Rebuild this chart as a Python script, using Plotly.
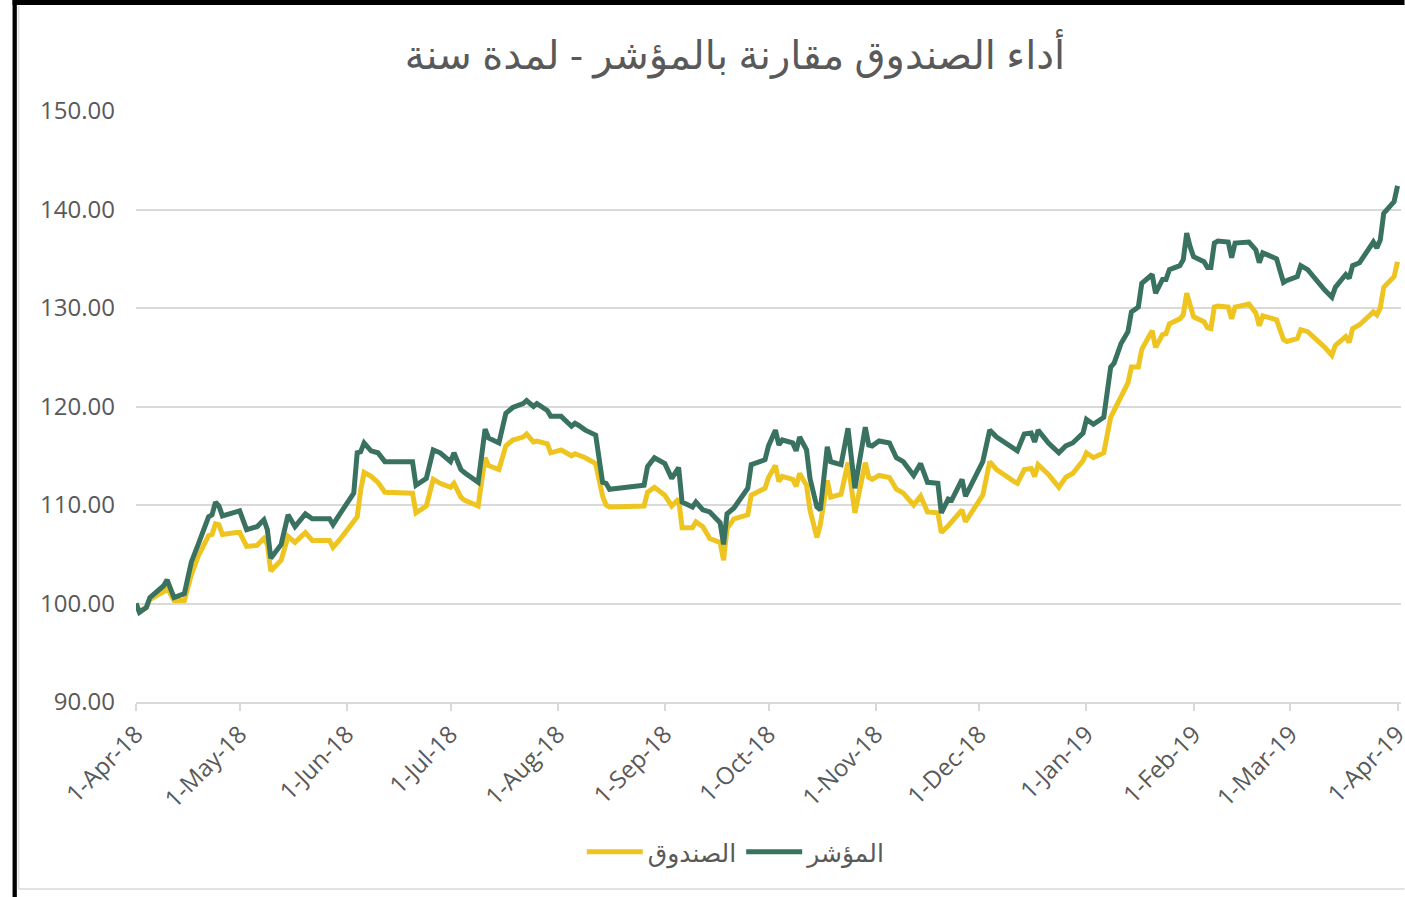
import plotly.graph_objects as go

# ---------------- data ----------------
dates = [
    "2018-04-01", "2018-04-02", "2018-04-04", "2018-04-05", "2018-04-08", "2018-04-09", "2018-04-10",
    "2018-04-12", "2018-04-15", "2018-04-17", "2018-04-19", "2018-04-22", "2018-04-23", "2018-04-24",
    "2018-04-25", "2018-04-26", "2018-04-30", "2018-05-01", "2018-05-03", "2018-05-06", "2018-05-08",
    "2018-05-09", "2018-05-10", "2018-05-13", "2018-05-15", "2018-05-17", "2018-05-20", "2018-05-22",
    "2018-05-27", "2018-05-28", "2018-05-30", "2018-06-03", "2018-06-04", "2018-06-05", "2018-06-06",
    "2018-06-08", "2018-06-10", "2018-06-12", "2018-06-20", "2018-06-21", "2018-06-24", "2018-06-26",
    "2018-06-28", "2018-07-01", "2018-07-02", "2018-07-04", "2018-07-05", "2018-07-09", "2018-07-11",
    "2018-07-12", "2018-07-15", "2018-07-17", "2018-07-19", "2018-07-22", "2018-07-23", "2018-07-25",
    "2018-07-26", "2018-07-29", "2018-07-30", "2018-08-02", "2018-08-05", "2018-08-06", "2018-08-07",
    "2018-08-09", "2018-08-12", "2018-08-14", "2018-08-15", "2018-08-16", "2018-08-26", "2018-08-27",
    "2018-08-29", "2018-09-01", "2018-09-03", "2018-09-05", "2018-09-06", "2018-09-09", "2018-09-10",
    "2018-09-12", "2018-09-14", "2018-09-17", "2018-09-18", "2018-09-19", "2018-09-21", "2018-09-23",
    "2018-09-25", "2018-09-26", "2018-09-30", "2018-10-01", "2018-10-03", "2018-10-04", "2018-10-05",
    "2018-10-08", "2018-10-09", "2018-10-10", "2018-10-12", "2018-10-13", "2018-10-15", "2018-10-16",
    "2018-10-18", "2018-10-19", "2018-10-22", "2018-10-24", "2018-10-26", "2018-10-29", "2018-10-30",
    "2018-10-31", "2018-11-02", "2018-11-05", "2018-11-07", "2018-11-09", "2018-11-12", "2018-11-14",
    "2018-11-16", "2018-11-19", "2018-11-20", "2018-11-22", "2018-11-23", "2018-11-26", "2018-11-27",
    "2018-12-02", "2018-12-04", "2018-12-06", "2018-12-11", "2018-12-12", "2018-12-14", "2018-12-16",
    "2018-12-17", "2018-12-18", "2018-12-21", "2018-12-24", "2018-12-26", "2018-12-28", "2018-12-31",
    "2019-01-01", "2019-01-03", "2019-01-06", "2019-01-08", "2019-01-09", "2019-01-10", "2019-01-11",
    "2019-01-13", "2019-01-14", "2019-01-16", "2019-01-17", "2019-01-20", "2019-01-21", "2019-01-23",
    "2019-01-24", "2019-01-25", "2019-01-28", "2019-01-29", "2019-01-30", "2019-01-31", "2019-02-01",
    "2019-02-04", "2019-02-05", "2019-02-06", "2019-02-07", "2019-02-08", "2019-02-11", "2019-02-12",
    "2019-02-13", "2019-02-17", "2019-02-19", "2019-02-20", "2019-02-21", "2019-02-25", "2019-02-27",
    "2019-02-28", "2019-03-03", "2019-03-04", "2019-03-06", "2019-03-11", "2019-03-13", "2019-03-14",
    "2019-03-17", "2019-03-18", "2019-03-19", "2019-03-21", "2019-03-25", "2019-03-26", "2019-03-27",
    "2019-03-28", "2019-03-31", "2019-04-01",
]

index_vals = [
    100.0, 99.1, 99.6, 100.6, 101.5, 101.8, 102.4,
    100.6, 101.0, 104.2, 106.0, 108.8, 109.0, 110.3,
    109.9, 108.9, 109.3, 109.4, 107.5, 107.8, 108.5,
    107.5, 104.6, 106.0, 109.0, 107.8, 109.1, 108.6,
    108.6, 108.0, 109.1, 111.2, 115.3, 115.4, 116.3,
    115.5, 115.3, 114.4, 114.4, 112.0, 112.7, 115.6,
    115.3, 114.4, 115.3, 113.6, 113.3, 112.3, 117.7,
    116.8, 116.3, 119.3, 119.9, 120.3, 120.6, 120.0,
    120.3, 119.6, 119.0, 119.0, 118.0, 118.3, 118.1,
    117.6, 117.1, 112.3, 112.2, 111.6, 112.0, 113.9,
    114.8, 114.2, 112.7, 113.8, 110.3, 109.8, 110.3,
    109.5, 109.3, 108.2, 106.0, 109.1, 109.7, 110.8,
    111.7, 114.1, 114.6, 116.0, 117.6, 116.1, 116.6,
    116.3, 115.5, 116.9, 115.6, 112.7, 109.8, 109.5,
    115.9, 114.4, 114.1, 117.8, 111.7, 117.9, 116.1,
    116.0, 116.5, 116.3, 114.8, 114.4, 113.0, 114.2,
    112.3, 112.2, 109.2, 110.6, 110.5, 112.6, 110.9,
    114.4, 117.6, 116.9, 115.8, 115.5, 117.2, 117.3,
    116.4, 117.6, 116.3, 115.3, 116.0, 116.3, 117.3,
    118.7, 118.2, 118.9, 124.0, 124.4, 125.4, 126.4,
    127.6, 129.6, 130.1, 132.5, 133.4, 131.5, 132.9,
    132.9, 133.9, 134.3, 134.9, 137.6, 136.2, 135.2,
    134.7, 134.1, 134.1, 136.6, 136.8, 136.7, 135.1,
    136.6, 136.7, 135.9, 134.6, 135.6, 135.0, 132.6,
    132.8, 133.2, 134.3, 133.9, 131.8, 131.1, 132.1,
    133.4, 133.0, 134.3, 134.6, 136.7, 136.1, 136.9,
    139.6, 140.8, 142.4,
]

fund_vals = [
    100.0, 99.2, 99.6, 100.4, 101.0, 101.2, 101.6,
    100.3, 100.3, 102.9, 104.8, 106.9, 107.0, 108.1,
    108.0, 107.0, 107.2, 107.2, 105.8, 105.9, 106.6,
    106.0, 103.3, 104.4, 106.8, 106.2, 107.2, 106.4,
    106.4, 105.7, 106.5, 108.3, 108.8, 111.5, 113.3,
    112.9, 112.3, 111.3, 111.2, 109.2, 109.9, 112.6,
    112.2, 111.8, 112.2, 110.8, 110.5, 109.9, 114.8,
    114.0, 113.6, 116.0, 116.6, 116.9, 117.2, 116.4,
    116.5, 116.2, 115.3, 115.6, 115.0, 115.2, 115.1,
    114.8, 114.2, 110.9, 110.0, 109.8, 109.9, 111.3,
    111.8, 111.0, 109.9, 110.6, 107.7, 107.7, 108.3,
    107.8, 106.6, 106.2, 104.4, 107.6, 108.6, 108.8,
    109.0, 111.0, 111.7, 112.8, 114.0, 112.4, 112.9,
    112.6, 111.9, 113.2, 112.0, 109.5, 106.7, 108.0,
    112.5, 110.8, 111.1, 114.3, 109.2, 114.3, 112.8,
    112.6, 113.0, 112.8, 111.6, 111.2, 110.0, 110.9,
    109.3, 109.2, 107.2, 107.9, 108.3, 109.5, 108.3,
    111.0, 114.4, 113.6, 112.4, 112.2, 113.6, 113.7,
    112.9, 114.1, 113.1, 111.8, 112.8, 113.2, 114.5,
    115.3, 114.8, 115.3, 118.9, 119.6, 120.3, 121.0,
    122.4, 124.0, 124.0, 125.8, 127.7, 126.0, 127.3,
    127.4, 128.4, 128.9, 129.3, 131.5, 130.1, 129.1,
    128.6, 128.0, 127.9, 130.1, 130.2, 130.1, 128.9,
    130.1, 130.4, 129.5, 128.2, 129.2, 128.8, 126.8,
    126.6, 126.9, 127.8, 127.6, 126.0, 125.2, 126.2,
    127.1, 126.5, 127.9, 128.3, 129.6, 129.3, 130.0,
    132.1, 133.2, 134.7,
]

series_names = ["الصندوق", "المؤشر"]
title_text = "أداء الصندوق مقارنة بالمؤشر - لمدة سنة"
y_ticks = [90, 100, 110, 120, 130, 140, 150]

# ---------------- style ----------------
W, H = 1405, 897
PX_PER_DAY = (1398 - 136) / 365.0
PAD_DAYS = 1.0
L, T, B = 136, 111, H - 702
R = W - (1398 + PAD_DAYS * PX_PER_DAY)
FONT = "Open Sans, DejaVu Sans, sans-serif"
TXT = "#595959"
GRID = "#D9D9D9"
YELLOW = "#EEC520"
GREEN = "#3A7261"


def px_x(px):
    return (px - L) / (W - L - R)


def px_y(py):
    return (H - B - py) / (H - T - B)


fig = go.Figure()
fig.add_trace(go.Scatter(x=dates, y=fund_vals, name=series_names[0], mode="lines",
                         line=dict(color=YELLOW, width=5)))
fig.add_trace(go.Scatter(x=dates, y=index_vals, name=series_names[1], mode="lines",
                         line=dict(color=GREEN, width=5)))

shapes = [
    dict(type="rect", xref="paper", yref="paper", x0=px_x(12.5), x1=px_x(16.8), y0=px_y(H), y1=px_y(0),
         fillcolor="black", line=dict(width=0), layer="above"),
    dict(type="rect", xref="paper", yref="paper", x0=px_x(12.5), x1=px_x(W), y0=px_y(5), y1=px_y(0),
         fillcolor="black", line=dict(width=0), layer="above"),
    dict(type="line", xref="paper", yref="paper", x0=px_x(18.5), x1=px_x(18.5), y0=px_y(6), y1=px_y(889),
         line=dict(color=GRID, width=1.5)),
    dict(type="line", xref="paper", yref="paper", x0=px_x(18.5), x1=px_x(W), y0=px_y(889), y1=px_y(889),
         line=dict(color=GRID, width=1.5)),
]

fig.update_layout(
    width=W, height=H,
    margin=dict(l=L, r=R, t=T, b=B, autoexpand=False),
    paper_bgcolor="white", plot_bgcolor="white",
    font=dict(family=FONT, color=TXT, size=24),
    title=dict(text=title_text, x=735 / W, xanchor="center", y=1 - 55 / H, yanchor="middle",
               xref="container", yref="container",
               font=dict(family=FONT, size=40, color=TXT)),
    showlegend=True,
    legend=dict(orientation="h", x=px_x(737), xanchor="center", y=px_y(852), yanchor="middle",
                font=dict(size=25, color=TXT), bgcolor="rgba(0,0,0,0)", traceorder="normal",
                itemwidth=56),
    xaxis=dict(
        type="date", range=["2018-04-01", "2019-04-02"],
        tickformat="%-d-%b-%y", dtick="M1", tick0="2018-04-01",
        tickangle=-45, tickfont=dict(size=24, color=TXT),
        ticklabeloverflow="allow", automargin=False,
        showgrid=False, zeroline=False,
        showline=True, linecolor=GRID, linewidth=1.5,
        ticks="outside", ticklen=7, tickcolor=GRID, tickwidth=1.5,
    ),
    yaxis=dict(
        range=[90, 150], tickvals=y_ticks, tickformat=".2f",
        tickfont=dict(size=24, color=TXT), automargin=False,
        showgrid=True, gridcolor=GRID, gridwidth=1.5,
        zeroline=False, showline=False, ticks="", ticklabelstandoff=20,
    ),
    shapes=shapes,
)

fig.write_html("out.html", config={"displayModeBar": False},
               post_script="document.body.style.margin='0';")
